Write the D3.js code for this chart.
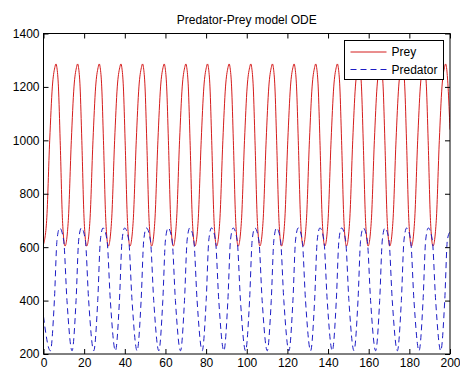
<!DOCTYPE html>
<html>
<head>
<meta charset="utf-8">
<script src="https://cdn.jsdelivr.net/npm/d3@7"></script>
<style>
  body { margin: 0; background: #fff; }
  text { font-family: "Liberation Sans", Arial, sans-serif; font-size: 12px; fill: #000; }
</style>
</head>
<body>
<script>
// values: [time, population]
const xTicks = [0, 20, 40, 60, 80, 100, 120, 140, 160, 180, 200];
const yTicks = [200, 400, 600, 800, 1000, 1200, 1400];
const seriesNames = ["Prey", "Predator"];

const prey = [
  [0, 610],
  [1.55, 700], [3.05, 1000], [4.35, 1200], [5.55, 1272], [6.15, 1286], [6.6, 1272], [7.35, 1200], [8.2, 1000], [9.35, 700], [10.6, 604],
  [12.2, 700], [13.7, 1000], [15.0, 1200], [16.2, 1272], [16.8, 1286], [17.25, 1272], [18.0, 1200], [18.85, 1000], [20.0, 700], [21.25, 604],
  [22.85, 700], [24.35, 1000], [25.65, 1200], [26.85, 1272], [27.45, 1286], [27.9, 1272], [28.65, 1200], [29.5, 1000], [30.65, 700], [31.9, 604],
  [33.5, 700], [35.0, 1000], [36.3, 1200], [37.5, 1272], [38.1, 1286], [38.55, 1272], [39.3, 1200], [40.15, 1000], [41.3, 700], [42.55, 604],
  [44.15, 700], [45.65, 1000], [46.95, 1200], [48.15, 1272], [48.75, 1286], [49.2, 1272], [49.95, 1200], [50.8, 1000], [51.95, 700], [53.2, 604],
  [54.8, 700], [56.3, 1000], [57.6, 1200], [58.8, 1272], [59.4, 1286], [59.85, 1272], [60.6, 1200], [61.45, 1000], [62.6, 700], [63.85, 604],
  [65.45, 700], [66.95, 1000], [68.25, 1200], [69.45, 1272], [70.05, 1286], [70.5, 1272], [71.25, 1200], [72.1, 1000], [73.25, 700], [74.5, 604],
  [76.1, 700], [77.6, 1000], [78.9, 1200], [80.1, 1272], [80.7, 1286], [81.15, 1272], [81.9, 1200], [82.75, 1000], [83.9, 700], [85.15, 604],
  [86.75, 700], [88.25, 1000], [89.55, 1200], [90.75, 1272], [91.35, 1286], [91.8, 1272], [92.55, 1200], [93.4, 1000], [94.55, 700], [95.8, 604],
  [97.4, 700], [98.9, 1000], [100.2, 1200], [101.4, 1272], [102.0, 1286], [102.45, 1272], [103.2, 1200], [104.05, 1000], [105.2, 700], [106.45, 604],
  [108.05, 700], [109.55, 1000], [110.85, 1200], [112.05, 1272], [112.65, 1286], [113.1, 1272], [113.85, 1200], [114.7, 1000], [115.85, 700], [117.1, 604],
  [118.7, 700], [120.2, 1000], [121.5, 1200], [122.7, 1272], [123.3, 1286], [123.75, 1272], [124.5, 1200], [125.35, 1000], [126.5, 700], [127.75, 604],
  [129.35, 700], [130.85, 1000], [132.15, 1200], [133.35, 1272], [133.95, 1286], [134.4, 1272], [135.15, 1200], [136.0, 1000], [137.15, 700], [138.4, 604],
  [140.0, 700], [141.5, 1000], [142.8, 1200], [144.0, 1272], [144.6, 1286], [145.05, 1272], [145.8, 1200], [146.65, 1000], [147.8, 700], [149.05, 604],
  [150.65, 700], [152.15, 1000], [153.45, 1200], [154.65, 1272], [155.25, 1286], [155.7, 1272], [156.45, 1200], [157.3, 1000], [158.45, 700], [159.7, 604],
  [161.3, 700], [162.8, 1000], [164.1, 1200], [165.3, 1272], [165.9, 1286], [166.35, 1272], [167.1, 1200], [167.95, 1000], [169.1, 700], [170.35, 604],
  [171.95, 700], [173.45, 1000], [174.75, 1200], [175.95, 1272], [176.55, 1286], [177.0, 1272], [177.75, 1200], [178.6, 1000], [179.75, 700], [181.0, 604],
  [182.6, 700], [184.1, 1000], [185.4, 1200], [186.6, 1272], [187.2, 1286], [187.65, 1272], [188.4, 1200], [189.25, 1000], [190.4, 700], [191.65, 604],
  [193.25, 700], [194.75, 1000], [196.05, 1200], [197.25, 1272], [197.85, 1286], [198.3, 1272], [199.05, 1200], [200, 1040]
];

const predator = [
  [0, 340],
  [3.38, 212], [5.35, 400], [6.65, 627], [7.95, 672], [9.9, 627], [11.55, 400],
  [14.05, 212], [16.02, 400], [17.32, 627], [18.62, 672], [20.57, 627], [22.22, 400],
  [24.72, 212], [26.69, 400], [27.99, 627], [29.29, 672], [31.24, 627], [32.89, 400],
  [35.39, 212], [37.36, 400], [38.66, 627], [39.96, 672], [41.91, 627], [43.56, 400],
  [46.06, 212], [48.03, 400], [49.33, 627], [50.63, 672], [52.58, 627], [54.23, 400],
  [56.73, 212], [58.7, 400], [60.0, 627], [61.3, 672], [63.25, 627], [64.9, 400],
  [67.4, 212], [69.37, 400], [70.67, 627], [71.97, 672], [73.92, 627], [75.57, 400],
  [78.07, 212], [80.04, 400], [81.34, 627], [82.64, 672], [84.59, 627], [86.24, 400],
  [88.74, 212], [90.71, 400], [92.01, 627], [93.31, 672], [95.26, 627], [96.91, 400],
  [99.41, 212], [101.38, 400], [102.68, 627], [103.98, 672], [105.93, 627], [107.58, 400],
  [110.08, 212], [112.05, 400], [113.35, 627], [114.65, 672], [116.6, 627], [118.25, 400],
  [120.75, 212], [122.72, 400], [124.02, 627], [125.32, 672], [127.27, 627], [128.92, 400],
  [131.42, 212], [133.39, 400], [134.69, 627], [135.99, 672], [137.94, 627], [139.59, 400],
  [142.09, 212], [144.06, 400], [145.36, 627], [146.66, 672], [148.61, 627], [150.26, 400],
  [152.76, 212], [154.73, 400], [156.03, 627], [157.33, 672], [159.28, 627], [160.93, 400],
  [163.43, 212], [165.4, 400], [166.7, 627], [168.0, 672], [169.95, 627], [171.6, 400],
  [174.1, 212], [176.07, 400], [177.37, 627], [178.67, 672], [180.62, 627], [182.27, 400],
  [184.77, 212], [186.74, 400], [188.04, 627], [189.34, 672], [191.29, 627], [192.94, 400],
  [195.44, 212], [197.41, 400], [198.71, 627], [200, 658]
];

const width = 460, height = 371;
const margin = { top: 33.5, right: 10, bottom: 17, left: 43.5 };
const plotW = width - margin.left - margin.right;
const plotH = height - margin.top - margin.bottom;

const svg = d3.select("body")
  .append("svg")
  .attr("width", width)
  .attr("height", height);

const x = d3.scaleLinear().domain([0, 200]).range([0, plotW]);
const y = d3.scaleLinear().domain([200, 1400]).range([plotH, 0]);

const g = svg.append("g")
  .attr("transform", `translate(${margin.left},${margin.top})`);

g.append("defs").append("clipPath")
  .attr("id", "plot-clip")
  .append("rect")
  .attr("width", plotW)
  .attr("height", plotH);

// curves
const line = d3.line()
  .x((d) => x(d[0]))
  .y((d) => y(d[1]))
  .curve(d3.curveMonotoneX);

const curves = g.append("g").attr("clip-path", "url(#plot-clip)");

curves.append("path")
  .datum(prey)
  .attr("fill", "none")
  .attr("stroke", "#d41c1c")
  .attr("stroke-width", 1)
  .attr("d", line);

curves.append("path")
  .datum(predator)
  .attr("fill", "none")
  .attr("stroke", "#1c1cc4")
  .attr("stroke-width", 1)
  .attr("stroke-dasharray", "6,4")
  .attr("d", line);

// axes, ticks pointing inward on all four sides
const tick = 5;
const fmt = d3.format("d");

g.append("g")
  .attr("transform", `translate(0,${plotH})`)
  .call(d3.axisBottom(x).tickValues(xTicks).tickFormat(fmt)
    .tickSizeInner(-tick).tickSizeOuter(0).tickPadding(4));

g.append("g")
  .call(d3.axisLeft(y).tickValues(yTicks).tickFormat(fmt)
    .tickSizeInner(-tick).tickSizeOuter(0).tickPadding(4));

g.append("g")
  .call(d3.axisTop(x).tickValues(xTicks).tickSizeInner(-tick).tickSizeOuter(0).tickFormat(""));

g.append("g")
  .attr("transform", `translate(${plotW},0)`)
  .call(d3.axisRight(y).tickValues(yTicks).tickSizeInner(-tick).tickSizeOuter(0).tickFormat(""));

g.selectAll(".domain").remove();
g.selectAll(".tick line").attr("stroke", "#000");
g.selectAll(".tick text")
  .style("font-family", "'Liberation Sans', Arial, sans-serif")
  .style("font-size", "12px")
  .attr("fill", "#000");

g.append("rect")
  .attr("width", plotW)
  .attr("height", plotH)
  .attr("fill", "none")
  .attr("stroke", "#000")
  .attr("stroke-width", 1);

// title
svg.append("text")
  .attr("x", margin.left + plotW / 2)
  .attr("y", 24)
  .attr("text-anchor", "middle")
  .text("Predator-Prey model ODE");

// legend
const legend = svg.append("g").attr("transform", "translate(344.5,40.5)");

legend.append("rect")
  .attr("width", 99)
  .attr("height", 39)
  .attr("fill", "#fff")
  .attr("stroke", "#000")
  .attr("stroke-width", 1);

const legendStyles = [
  { color: "#d41c1c", dash: null },
  { color: "#1c1cc4", dash: "6,4" }
];

const entry = legend.selectAll(".entry")
  .data(seriesNames)
  .enter()
  .append("g")
  .attr("class", "entry")
  .attr("transform", (d, i) => `translate(0,${11.5 + i * 17.5})`);

entry.append("line")
  .attr("x1", 6)
  .attr("x2", 42)
  .attr("stroke", (d, i) => legendStyles[i].color)
  .attr("stroke-dasharray", (d, i) => legendStyles[i].dash);

entry.append("text")
  .attr("x", 47)
  .attr("dy", "0.36em")
  .text((d) => d);
</script>
</body>
</html>
